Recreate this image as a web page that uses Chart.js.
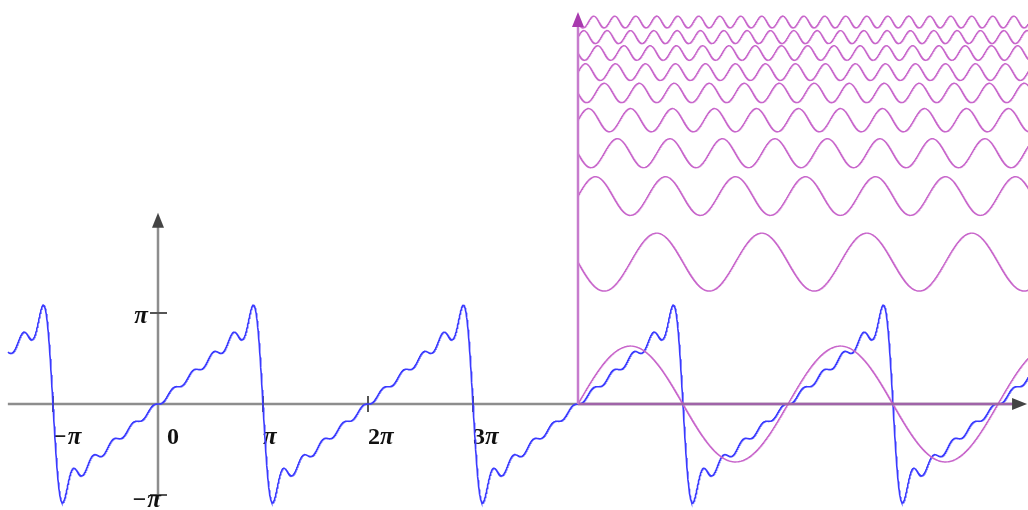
<!DOCTYPE html>
<html>
<head>
<meta charset="utf-8">
<script src="https://cdn.jsdelivr.net/npm/chart.js@4.4.1/dist/chart.umd.min.js"></script>
<style>
  body { margin: 0; background: #fff; }
</style>
</head>
<body>
<canvas id="fourier" width="1028" height="510"></canvas>
<script>
const PI = Math.PI;

// sawtooth partial sum: harmonic number, signed amplitude, vertical offset of each stacked harmonic (y units)
const harmonics = [1, 2, 3, 4, 5, 6, 7, 8, 9, 10];
const amplitudes = [2, -1, 0.667, -0.5, 0.4, -0.333, 0.286, -0.25, 0.222, -0.2];
const offsets = [0, 4.9, 7.18, 8.66, 9.8, 10.74, 11.46, 12.12, 12.67, 13.19];

// axis ticks
const xTicks = [-PI, PI, 2 * PI, 3 * PI];
const xTickLabels = ['−π', 'π', '2π', '3π'];
const yTicks = [PI, -PI];
const yTickLabels = ['π', '−π'];

const sumStart = -1.43 * PI;   // blue curve starts here
const stackStart = 4 * PI;     // purple axes origin
const xEnd = 8.3 * PI;

function partialSum(x) {
    let s = 0;
    harmonics.forEach((n, i) => { s += amplitudes[i] * Math.sin(n * x); });
    return s;
}

const sumPoints = [];
for (let x = sumStart; x <= xEnd; x += 0.01) {
    sumPoints.push({ x: x, y: partialSum(x) });
}

const datasets = [{
    data: sumPoints,
    borderColor: '#3a3aff',
    borderWidth: 1.6,
    showLine: true,
    pointRadius: 0,
    order: 2
}];

harmonics.forEach((n, i) => {
    const pts = [];
    for (let x = stackStart; x <= xEnd; x += 0.01) {
        pts.push({ x: x, y: offsets[i] + amplitudes[i] * Math.sin(n * x) });
    }
    datasets.push({
        data: pts,
        borderColor: '#c866cb',
        borderWidth: 1.4,
        showLine: true,
        pointRadius: 0,
        order: 1
    });
});

function line(ctx, x1, y1, x2, y2) {
    ctx.beginPath();
    ctx.moveTo(x1, y1);
    ctx.lineTo(x2, y2);
    ctx.stroke();
}

function arrow(ctx, tx, ty, dir, color) {
    // dir: 'up' or 'right'
    ctx.fillStyle = color;
    ctx.beginPath();
    if (dir === 'up') {
        ctx.moveTo(tx, ty);
        ctx.lineTo(tx - 6, ty + 15);
        ctx.lineTo(tx + 6, ty + 15);
    } else {
        ctx.moveTo(tx, ty);
        ctx.lineTo(tx - 15, ty - 6);
        ctx.lineTo(tx - 15, ty + 6);
    }
    ctx.closePath();
    ctx.fill();
}

// bold upright digits / minus, bold italic pi (like TeX math)
const uprightFont = 'bold 24px "Liberation Serif", serif';
const italicFont = 'italic bold 25px "Liberation Serif", serif';

function labelWidth(ctx, text) {
    let w = 0;
    for (const ch of text) {
        ctx.font = ch === 'π' ? italicFont : uprightFont;
        w += ctx.measureText(ch).width + (ch === '−' ? 1 : 0);
    }
    return w;
}

function drawLabel(ctx, text, x, y, align) {
    let cx = align === 'right' ? x - labelWidth(ctx, text) : x;
    ctx.textAlign = 'left';
    for (const ch of text) {
        ctx.font = ch === 'π' ? italicFont : uprightFont;
        ctx.fillText(ch, cx, y);
        cx += ctx.measureText(ch).width + (ch === '−' ? 1 : 0);
    }
}

const axesPlugin = {
    id: 'axes',
    beforeDatasetsDraw(chart) {
        const { ctx, scales: { x, y } } = chart;
        const px = v => x.getPixelForValue(v);
        const py = v => y.getPixelForValue(v);
        ctx.save();
        ctx.lineCap = 'butt';
        ctx.strokeStyle = '#8d8d8d';
        ctx.lineWidth = 2.5;
        line(ctx, px(sumStart), py(0), px(8.2 * PI), py(0));
        line(ctx, px(0), py(-3.3), px(0), py(6.3));

        ctx.strokeStyle = '#555';
        ctx.lineWidth = 2;
        xTicks.forEach(t => line(ctx, px(t), py(0) - 8, px(t), py(0) + 8));
        yTicks.forEach(t => line(ctx, px(0) - 8, py(t), px(0) + 9, py(t)));

        ctx.fillStyle = '#111';
        ctx.textBaseline = 'alphabetic';
        xTicks.forEach((t, i) => drawLabel(ctx, xTickLabels[i], px(t), py(0) + 40, 'left'));
        drawLabel(ctx, '0', px(0) + 9, py(0) + 40, 'left');
        drawLabel(ctx, yTickLabels[0], px(0) - 10, py(yTicks[0]) + 10, 'right');
        drawLabel(ctx, yTickLabels[1], px(0) + 3, py(yTicks[1]) + 12, 'right');
        ctx.restore();
    },
    afterDatasetsDraw(chart) {
        const { ctx, scales: { x, y } } = chart;
        const px = v => x.getPixelForValue(v);
        const py = v => y.getPixelForValue(v);
        ctx.save();
        ctx.strokeStyle = '#a064a8';
        ctx.lineWidth = 2.5;
        line(ctx, px(stackStart), py(0), px(8.2 * PI), py(0));
        ctx.strokeStyle = '#c77ccd';
        line(ctx, px(stackStart), py(0), px(stackStart), py(13.2));
        arrow(ctx, px(stackStart), py(13.53), 'up', '#a83aae');
        arrow(ctx, px(0), py(6.6), 'up', '#444');
        arrow(ctx, px(8.277 * PI), py(0), 'right', '#444');
        ctx.restore();
    }
};

new Chart(document.getElementById('fourier'), {
    type: 'scatter',
    data: { datasets: datasets },
    options: {
        responsive: false,
        animation: false,
        layout: { padding: 0 },
        plugins: { legend: { display: false }, tooltip: { enabled: false } },
        scales: {
            x: { type: 'linear', display: false, min: -158 / 105 * PI, max: 870 / 105 * PI },
            y: { type: 'linear', display: false, min: -106 / 91 * PI, max: 404 / 91 * PI }
        }
    },
    plugins: [axesPlugin]
});
</script>
</body>
</html>
